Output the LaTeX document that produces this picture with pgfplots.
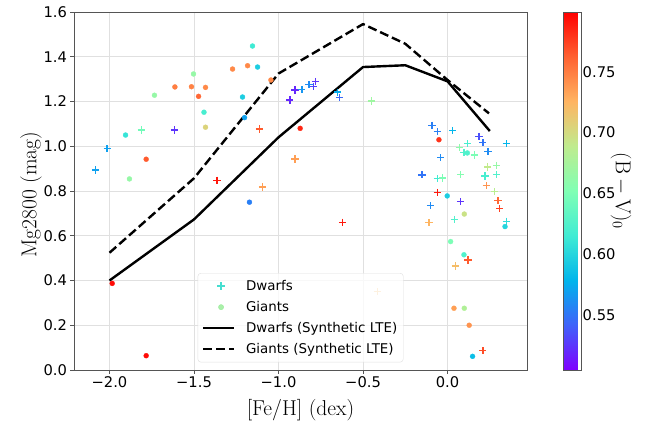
\documentclass[border=0pt]{standalone}
\usepackage{fontspec}
\usepackage{pgfplots}
\pgfplotsset{compat=1.18}
\newfontfamily\dejavu{DejaVu Sans}
\definecolor{gridc}{RGB}{224,224,224}
\definecolor{framec}{RGB}{85,85,85}
\definecolor{turq}{RGB}{70,222,208}
\definecolor{lgreen}{RGB}{150,236,150}
\pgfplotsset{
  colormap={mplrainbow}{rgb=(0.5,0,1) rgb=(0.25,0.383,0.981) rgb=(0,0.707,0.924) rgb=(0.25,0.924,0.831) rgb=(0.5,1,0.707) rgb=(0.75,0.924,0.556) rgb=(1,0.707,0.383) rgb=(1,0.383,0.195) rgb=(1,0,0)},
  legmark/.style={legend image code/.code={\draw[##1] plot[only marks] coordinates {(18bp,0bp)};\path[draw=none,fill=none] (0bp,0bp) -- (41bp,0bp);}},
  legline/.style={legend image code/.code={\draw[##1] (0bp,0bp) -- (31bp,0bp);\path[draw=none,fill=none] (0bp,0bp) -- (41bp,0bp);}},
}
\newcommand{\tickfont}{\dejavu\fontsize{14.7bp}{17bp}\selectfont}
\newcommand{\labfont}{\fontsize{21.5bp}{24bp}\selectfont}

\pgfplotstableread{
x y c
-1.154 1.448 0.615
-1.183 1.360 0.745
-1.124 1.354 0.595
-1.272 1.345 0.745
-1.503 1.323 0.665
-1.045 1.296 0.745
-1.613 1.265 0.750
-1.515 1.266 0.748
-1.432 1.263 0.745
-1.734 1.228 0.665
-1.473 1.223 0.760
-1.213 1.220 0.595
-1.441 1.152 0.620
-1.201 1.128 0.570
-1.432 1.085 0.705
-1.905 1.050 0.610
-1.783 0.942 0.765
-1.882 0.854 0.665
-0.872 1.080 0.785
-1.172 0.750 0.555
-1.984 0.387 0.795
-1.783 0.064 0.795
-0.051 1.029 0.780
0.117 0.970 0.625
-0.002 0.778 0.595
0.099 0.697 0.695
0.340 0.641 0.600
0.018 0.574 0.650
0.097 0.515 0.625
0.038 0.276 0.735
0.099 0.276 0.680
0.128 0.200 0.740
0.148 0.061 0.585
}\giants

\pgfplotstableread{
x y c
-1.112 1.077 0.765
-1.812 1.073 0.645
-1.615 1.073 0.525
-2.014 0.989 0.570
-2.083 0.894 0.570
-1.364 0.848 0.790
-1.095 0.818 0.735
-0.903 1.251 0.520
-0.862 1.253 0.565
-0.820 1.275 0.560
-0.783 1.289 0.525
-0.793 1.266 0.530
-0.933 1.207 0.520
-0.651 1.242 0.575
-0.639 1.217 0.545
-0.451 1.202 0.670
-0.903 0.943 0.735
-0.621 0.660 0.790
-0.414 0.350 0.720
-0.092 1.094 0.555
-0.061 1.065 0.555
0.030 1.070 0.580
0.186 1.044 0.535
0.209 1.016 0.550
0.347 1.011 0.580
0.118 1.011 0.620
0.069 0.994 0.660
0.239 0.977 0.560
0.097 0.973 0.625
0.158 0.961 0.650
-0.041 0.949 0.560
0.237 0.907 0.690
0.288 0.915 0.665
-0.151 0.872 0.550
-0.061 0.855 0.615
-0.030 0.858 0.650
0.077 0.873 0.655
0.221 0.867 0.620
0.290 0.873 0.625
0.229 0.824 0.740
-0.061 0.793 0.790
0.278 0.797 0.685
0.298 0.757 0.760
0.308 0.721 0.775
0.077 0.752 0.525
-0.101 0.734 0.560
-0.110 0.658 0.725
0.040 0.673 0.625
0.349 0.665 0.605
0.121 0.492 0.765
0.047 0.465 0.720
0.209 0.086 0.770
}\dwarfs

\pgfplotstableread{
x y
-2.00 0.400
-1.50 0.673
-1.00 1.040
-0.50 1.354
-0.25 1.362
0.00 1.290
0.25 1.068
}\dsyn

\pgfplotstableread{
x y
-2.00 0.524
-1.50 0.857
-1.00 1.325
-0.50 1.546
-0.25 1.458
0.00 1.296
0.245 1.147
}\gsyn

\begin{document}
\begin{tikzpicture}
\useasboundingbox (-74bp,-54bp) rectangle (583bp,370bp);
\begin{axis}[
  at={(0,0)}, anchor=south west,
  scale only axis, width=453bp, height=358bp,
  xmin=-2.21, xmax=0.47, ymin=0, ymax=1.6,
  xtick={-2,-1.5,-1,-0.5,0},
  xticklabels={−2.0,−1.5,−1.0,−0.5,0.0},
  ytick={0,0.2,0.4,0.6,0.8,1.0,1.2,1.4,1.6},
  yticklabel style={/pgf/number format/.cd, fixed, fixed zerofill, precision=1, assume math mode=true},
  ticklabel style={font=\tickfont},
  tick pos=left, tick align=outside, major tick length=3.5bp,
  tick style={framec, line width=0.8bp},
  grid=major, major grid style={gridc, line width=0.9bp},
  axis line style={framec, line width=0.9bp},
  xlabel={[Fe/H] (dex)}, ylabel={Mg2800 (mag)},
  label style={font=\labfont},
  xlabel style={at={(axis description cs:0.5,-0.112)}, anchor=center},
  ylabel style={at={(axis description cs:-0.095,0.49)}, anchor=center},
  colormap name=mplrainbow,
  point meta min=0.505, point meta max=0.799,
  colorbar,
  colorbar style={
    at={(parent axis.north east)}, anchor=north west, xshift=28bp,
    scale only axis, width=17.7bp, height=358bp,
    ytick={0.55,0.60,0.65,0.70,0.75},
    yticklabels={0.55,0.60,0.65,0.70,0.75},
    yticklabel style={font=\tickfont, xshift=-2bp},
    major tick length=0pt,
    axis line style={framec, line width=0.9bp},
    ylabel={$(\mathrm{B}-\mathrm{V})_0$},
    ylabel style={font=\labfont, rotate=180, at={(axis description cs:3.25,0.5)}, anchor=center},
  },
  legend style={at={(0.273,0.0215)}, anchor=south west, font=\dejavu\fontsize{13.4bp}{16bp}\selectfont,
    draw=gray!25, rounded corners=3bp, fill=white, fill opacity=0.8, text opacity=1,
    row sep=5.4bp, inner xsep=4bp, inner ysep=5bp},
  legend cell align=left,
]
\addlegendimage{legmark, mark=+, mark size=3.8bp, line width=1.2bp, turq}
\addlegendentry{Dwarfs}
\addlegendimage{legmark, mark=*, mark size=2.6bp, lgreen, mark options={draw=lgreen, fill=lgreen}}
\addlegendentry{Giants}
\addlegendimage{legline, black, line width=2.4bp}
\addlegendentry{Dwarfs (Synthetic LTE)}
\addlegendimage{legline, black, line width=2.4bp, dash pattern=on 9bp off 4bp}
\addlegendentry{Giants (Synthetic LTE)}

\addplot[forget plot, scatter, only marks, mark=+, mark size=3.6bp, line width=1.3bp,
  point meta=explicit,
  scatter/use mapped color={draw=mapped color, fill=mapped color}]
  table[x=x, y=y, meta=c] {\dwarfs};
\addplot[forget plot, scatter, only marks, mark=*, mark size=2.5bp, line width=0.3bp,
  point meta=explicit,
  scatter/use mapped color={draw=mapped color, fill=mapped color}]
  table[x=x, y=y, meta=c] {\giants};
\addplot[forget plot, black, line width=2.4bp, line join=round] table[x=x, y=y] {\dsyn};
\addplot[forget plot, black, line width=2.4bp, dash pattern=on 9bp off 4bp, line join=round] table[x=x, y=y] {\gsyn};
\end{axis}
\end{tikzpicture}
\end{document}
